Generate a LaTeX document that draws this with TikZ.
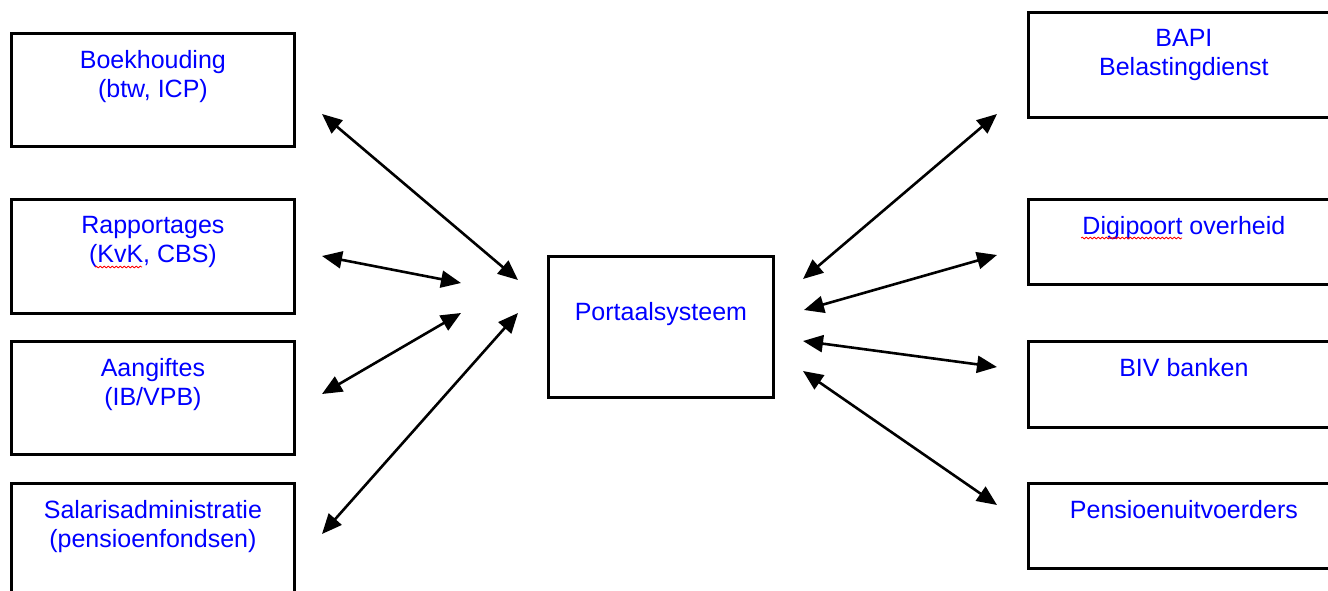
\documentclass[tikz,border=0pt]{standalone}
\usepackage{fontspec}
\setmainfont{Liberation Sans}
\usetikzlibrary{calc,positioning,arrows.meta,decorations.pathmorphing}

\begin{document}
\begin{tikzpicture}[
  x=1pt, y=-1pt,
  unit/.style={draw, line width=2.8pt, inner sep=0pt, anchor=north west},
  lbl/.style={text=blue, font=\fontsize{25}{29}\selectfont, align=center, anchor=north, inner sep=0pt},
  link/.style={{Triangle[length=20pt,width=17pt]}-{Triangle[length=20pt,width=17pt]}, line width=2.6pt},
  squiggle/.style={red, line width=.8pt, decorate, decoration={snake,amplitude=.9pt,segment length=4pt}},
  ]
  \useasboundingbox (0,0) rectangle (1328,591);

  % left column
  \node[unit, minimum width=283pt, minimum height=113pt] (boek) at (10,32) {};
  \node[unit, minimum width=283pt, minimum height=114pt] (rapp) at (10,198) {};
  \node[unit, minimum width=283pt, minimum height=113pt] (aang) at (10,340) {};
  \node[unit, minimum width=283pt, minimum height=113pt] (sal) at (10,482) {};

  \node[lbl] (boek-t) at ($(boek.north)+(0,18)$) {Boekhouding\\(btw, ICP)};
  \node[lbl] (rapp-t) at ($(rapp.north)+(0,18)$) {Rapportages\\(KvK, CBS)};
  \node[lbl] (aang-t) at ($(aang.north)+(0,18)$) {Aangiftes\\(IB/VPB)};
  \node[lbl] (sal-t) at ($(sal.north)+(0,18)$) {Salarisadministratie\\(pensioenfondsen)};

  % middle
  \node[unit, minimum width=225pt, minimum height=141pt] (port) at (547,255) {};
  \node[lbl] (port-t) at ($(port.north)+(0,47)$) {Portaalsysteem};

  % right column
  \node[unit, minimum width=311pt, minimum height=105pt] (bapi) at (1027,11) {};
  \node[unit, minimum width=311pt, minimum height=85pt] (digi) at (1027,198) {};
  \node[unit, minimum width=311pt, minimum height=86pt] (biv) at (1027,340) {};
  \node[unit, minimum width=311pt, minimum height=85pt] (pens) at (1027,482) {};

  \node[lbl] (bapi-t) at ($(bapi.north)+(0,18)$) {BAPI\\Belastingdienst};
  \node[lbl] (digi-t) at ($(digi.north)+(0,18)$) {Digipoort overheid};
  \node[lbl] (biv-t) at ($(biv.north)+(0,18)$) {BIV banken};
  \node[lbl] (pens-t) at ($(pens.north)+(0,18)$) {Pensioenuitvoerders};

  % spelling marks
  \draw[squiggle] (95,267) -- (142,267);
  \draw[squiggle] (1081,238) -- (1182,238);

  % arrow ends
  \coordinate (boek-a) at (322,114);
  \coordinate (boek-b) at (518,280);
  \coordinate (rapp-a) at (322,256);
  \coordinate (rapp-b) at (461,283);
  \coordinate (aang-a) at (322,394);
  \coordinate (aang-b) at (461,313);
  \coordinate (sal-a) at (322,534);
  \coordinate (sal-b) at (518,313);
  \coordinate (bapi-a) at (997,114);
  \coordinate (bapi-b) at (803,279);
  \coordinate (digi-a) at (997,255);
  \coordinate (digi-b) at (804,310);
  \coordinate (biv-a) at (997,367);
  \coordinate (biv-b) at (803,341);
  \coordinate (pens-a) at (997,505);
  \coordinate (pens-b) at (803,371);

  \foreach \s in {boek,rapp,aang,sal,bapi,digi,biv,pens}
    \draw[link] (\s-a) -- (\s-b);

\end{tikzpicture}
\end{document}
